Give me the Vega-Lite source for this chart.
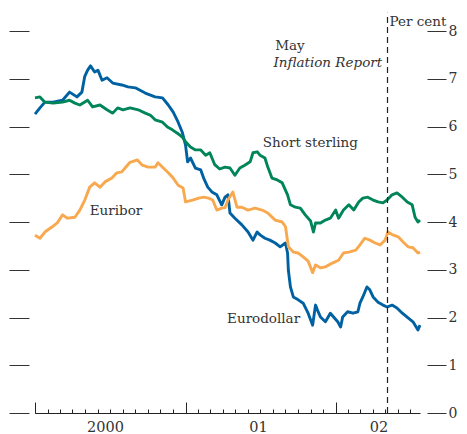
{
  "$schema": "https://vega.github.io/schema/vega-lite/v6.json",
  "width": 385,
  "height": 382,
  "autosize": "none",
  "padding": {"left": 35, "top": 31, "right": 47, "bottom": 21},
  "background": "white",
  "config": {
    "view": {"stroke": null},
    "font": "DejaVu Serif",
    "axis": {"labelFont": "DejaVu Serif", "titleFont": "DejaVu Serif", "grid": false}
  },
  "resolve": {"axis": {"x": "independent", "y": "independent"}},
  "layer": [
    {
      "data": {
        "values": [
          {"s":"Eurodollar","d":"2000-01-01","v":6.26},{"s":"Eurodollar","d":"2000-01-13","v":6.39},{"s":"Eurodollar","d":"2000-01-25","v":6.51},{"s":"Eurodollar","d":"2000-02-14","v":6.51},{"s":"Eurodollar","d":"2000-03-08","v":6.55},{"s":"Eurodollar","d":"2000-03-25","v":6.72},{"s":"Eurodollar","d":"2000-04-12","v":6.62},{"s":"Eurodollar","d":"2000-04-24","v":6.72},{"s":"Eurodollar","d":"2000-05-01","v":7.05},{"s":"Eurodollar","d":"2000-05-08","v":7.18},{"s":"Eurodollar","d":"2000-05-15","v":7.27},{"s":"Eurodollar","d":"2000-05-25","v":7.14},{"s":"Eurodollar","d":"2000-06-02","v":7.18},{"s":"Eurodollar","d":"2000-06-12","v":6.97},{"s":"Eurodollar","d":"2000-06-24","v":7.02},{"s":"Eurodollar","d":"2000-07-08","v":6.91},{"s":"Eurodollar","d":"2000-07-30","v":6.87},{"s":"Eurodollar","d":"2000-08-14","v":6.83},{"s":"Eurodollar","d":"2000-09-01","v":6.81},{"s":"Eurodollar","d":"2000-09-25","v":6.70},{"s":"Eurodollar","d":"2000-10-19","v":6.62},{"s":"Eurodollar","d":"2000-11-06","v":6.60},{"s":"Eurodollar","d":"2000-11-20","v":6.45},{"s":"Eurodollar","d":"2000-12-02","v":6.30},{"s":"Eurodollar","d":"2000-12-14","v":6.09},{"s":"Eurodollar","d":"2000-12-24","v":5.88},{"s":"Eurodollar","d":"2001-01-01","v":5.61},{"s":"Eurodollar","d":"2001-01-06","v":5.26},{"s":"Eurodollar","d":"2001-01-13","v":5.34},{"s":"Eurodollar","d":"2001-01-25","v":5.13},{"s":"Eurodollar","d":"2001-02-07","v":5.09},{"s":"Eurodollar","d":"2001-02-14","v":4.92},{"s":"Eurodollar","d":"2001-02-24","v":4.73},{"s":"Eurodollar","d":"2001-03-06","v":4.63},{"s":"Eurodollar","d":"2001-03-18","v":4.57},{"s":"Eurodollar","d":"2001-03-30","v":4.36},{"s":"Eurodollar","d":"2001-04-07","v":4.52},{"s":"Eurodollar","d":"2001-04-14","v":4.57},{"s":"Eurodollar","d":"2001-04-19","v":4.19},{"s":"Eurodollar","d":"2001-05-01","v":4.08},{"s":"Eurodollar","d":"2001-05-18","v":3.94},{"s":"Eurodollar","d":"2001-06-02","v":3.79},{"s":"Eurodollar","d":"2001-06-14","v":3.62},{"s":"Eurodollar","d":"2001-06-24","v":3.79},{"s":"Eurodollar","d":"2001-07-01","v":3.73},{"s":"Eurodollar","d":"2001-07-13","v":3.66},{"s":"Eurodollar","d":"2001-07-25","v":3.62},{"s":"Eurodollar","d":"2001-08-07","v":3.56},{"s":"Eurodollar","d":"2001-08-19","v":3.48},{"s":"Eurodollar","d":"2001-09-01","v":3.56},{"s":"Eurodollar","d":"2001-09-06","v":3.35},{"s":"Eurodollar","d":"2001-09-08","v":2.99},{"s":"Eurodollar","d":"2001-09-13","v":2.64},{"s":"Eurodollar","d":"2001-09-20","v":2.43},{"s":"Eurodollar","d":"2001-10-02","v":2.37},{"s":"Eurodollar","d":"2001-10-14","v":2.30},{"s":"Eurodollar","d":"2001-10-26","v":2.09},{"s":"Eurodollar","d":"2001-11-06","v":1.84},{"s":"Eurodollar","d":"2001-11-13","v":2.26},{"s":"Eurodollar","d":"2001-11-18","v":2.15},{"s":"Eurodollar","d":"2001-11-25","v":2.01},{"s":"Eurodollar","d":"2001-12-07","v":1.91},{"s":"Eurodollar","d":"2001-12-19","v":2.09},{"s":"Eurodollar","d":"2002-01-06","v":1.91},{"s":"Eurodollar","d":"2002-01-13","v":1.80},{"s":"Eurodollar","d":"2002-01-18","v":2.01},{"s":"Eurodollar","d":"2002-01-30","v":2.12},{"s":"Eurodollar","d":"2002-02-12","v":2.09},{"s":"Eurodollar","d":"2002-02-24","v":2.12},{"s":"Eurodollar","d":"2002-03-01","v":2.30},{"s":"Eurodollar","d":"2002-03-08","v":2.43},{"s":"Eurodollar","d":"2002-03-18","v":2.64},{"s":"Eurodollar","d":"2002-03-25","v":2.58},{"s":"Eurodollar","d":"2002-04-02","v":2.43},{"s":"Eurodollar","d":"2002-04-14","v":2.32},{"s":"Eurodollar","d":"2002-04-26","v":2.26},{"s":"Eurodollar","d":"2002-05-06","v":2.22},{"s":"Eurodollar","d":"2002-05-18","v":2.26},{"s":"Eurodollar","d":"2002-05-30","v":2.20},{"s":"Eurodollar","d":"2002-06-12","v":2.09},{"s":"Eurodollar","d":"2002-06-26","v":1.99},{"s":"Eurodollar","d":"2002-07-08","v":1.91},{"s":"Eurodollar","d":"2002-07-20","v":1.74},{"s":"Eurodollar","d":"2002-07-25","v":1.84},
          {"s":"Short sterling","d":"2000-01-01","v":6.60},{"s":"Short sterling","d":"2000-01-13","v":6.62},{"s":"Short sterling","d":"2000-01-25","v":6.51},{"s":"Short sterling","d":"2000-02-14","v":6.49},{"s":"Short sterling","d":"2000-03-08","v":6.51},{"s":"Short sterling","d":"2000-03-25","v":6.55},{"s":"Short sterling","d":"2000-04-07","v":6.49},{"s":"Short sterling","d":"2000-04-19","v":6.45},{"s":"Short sterling","d":"2000-05-08","v":6.55},{"s":"Short sterling","d":"2000-05-20","v":6.41},{"s":"Short sterling","d":"2000-06-07","v":6.45},{"s":"Short sterling","d":"2000-06-24","v":6.35},{"s":"Short sterling","d":"2000-07-08","v":6.28},{"s":"Short sterling","d":"2000-07-20","v":6.39},{"s":"Short sterling","d":"2000-08-02","v":6.35},{"s":"Short sterling","d":"2000-08-19","v":6.39},{"s":"Short sterling","d":"2000-09-08","v":6.35},{"s":"Short sterling","d":"2000-09-25","v":6.28},{"s":"Short sterling","d":"2000-10-07","v":6.24},{"s":"Short sterling","d":"2000-10-19","v":6.14},{"s":"Short sterling","d":"2000-11-06","v":6.09},{"s":"Short sterling","d":"2000-11-18","v":5.99},{"s":"Short sterling","d":"2000-11-30","v":5.93},{"s":"Short sterling","d":"2000-12-12","v":5.86},{"s":"Short sterling","d":"2000-12-24","v":5.78},{"s":"Short sterling","d":"2001-01-01","v":5.68},{"s":"Short sterling","d":"2001-01-13","v":5.57},{"s":"Short sterling","d":"2001-01-25","v":5.51},{"s":"Short sterling","d":"2001-02-07","v":5.51},{"s":"Short sterling","d":"2001-02-19","v":5.40},{"s":"Short sterling","d":"2001-03-01","v":5.45},{"s":"Short sterling","d":"2001-03-13","v":5.20},{"s":"Short sterling","d":"2001-03-25","v":5.11},{"s":"Short sterling","d":"2001-04-07","v":5.15},{"s":"Short sterling","d":"2001-04-19","v":5.13},{"s":"Short sterling","d":"2001-05-01","v":4.98},{"s":"Short sterling","d":"2001-05-13","v":5.13},{"s":"Short sterling","d":"2001-05-25","v":5.19},{"s":"Short sterling","d":"2001-06-07","v":5.26},{"s":"Short sterling","d":"2001-06-14","v":5.45},{"s":"Short sterling","d":"2001-06-24","v":5.47},{"s":"Short sterling","d":"2001-07-01","v":5.40},{"s":"Short sterling","d":"2001-07-13","v":5.34},{"s":"Short sterling","d":"2001-07-20","v":5.15},{"s":"Short sterling","d":"2001-07-30","v":4.92},{"s":"Short sterling","d":"2001-08-12","v":4.88},{"s":"Short sterling","d":"2001-08-24","v":4.82},{"s":"Short sterling","d":"2001-09-06","v":4.57},{"s":"Short sterling","d":"2001-09-13","v":4.36},{"s":"Short sterling","d":"2001-09-25","v":4.31},{"s":"Short sterling","d":"2001-10-07","v":4.29},{"s":"Short sterling","d":"2001-10-19","v":4.15},{"s":"Short sterling","d":"2001-11-01","v":4.02},{"s":"Short sterling","d":"2001-11-08","v":3.79},{"s":"Short sterling","d":"2001-11-13","v":3.98},{"s":"Short sterling","d":"2001-11-25","v":3.98},{"s":"Short sterling","d":"2001-12-07","v":4.04},{"s":"Short sterling","d":"2001-12-19","v":4.08},{"s":"Short sterling","d":"2002-01-01","v":4.25},{"s":"Short sterling","d":"2002-01-08","v":4.08},{"s":"Short sterling","d":"2002-01-20","v":4.25},{"s":"Short sterling","d":"2002-02-02","v":4.36},{"s":"Short sterling","d":"2002-02-14","v":4.25},{"s":"Short sterling","d":"2002-02-26","v":4.42},{"s":"Short sterling","d":"2002-03-08","v":4.50},{"s":"Short sterling","d":"2002-03-20","v":4.52},{"s":"Short sterling","d":"2002-04-02","v":4.46},{"s":"Short sterling","d":"2002-04-14","v":4.42},{"s":"Short sterling","d":"2002-04-26","v":4.40},{"s":"Short sterling","d":"2002-05-06","v":4.46},{"s":"Short sterling","d":"2002-05-18","v":4.57},{"s":"Short sterling","d":"2002-05-30","v":4.61},{"s":"Short sterling","d":"2002-06-12","v":4.52},{"s":"Short sterling","d":"2002-06-24","v":4.42},{"s":"Short sterling","d":"2002-07-06","v":4.36},{"s":"Short sterling","d":"2002-07-13","v":4.10},{"s":"Short sterling","d":"2002-07-20","v":4.00},{"s":"Short sterling","d":"2002-07-25","v":4.04},
          {"s":"Euribor","d":"2000-01-01","v":3.72},{"s":"Euribor","d":"2000-01-13","v":3.66},{"s":"Euribor","d":"2000-01-25","v":3.79},{"s":"Euribor","d":"2000-02-12","v":3.90},{"s":"Euribor","d":"2000-02-24","v":3.98},{"s":"Euribor","d":"2000-03-08","v":4.15},{"s":"Euribor","d":"2000-03-20","v":4.08},{"s":"Euribor","d":"2000-04-07","v":4.10},{"s":"Euribor","d":"2000-04-19","v":4.25},{"s":"Euribor","d":"2000-05-01","v":4.46},{"s":"Euribor","d":"2000-05-13","v":4.73},{"s":"Euribor","d":"2000-05-25","v":4.82},{"s":"Euribor","d":"2000-06-07","v":4.73},{"s":"Euribor","d":"2000-06-19","v":4.84},{"s":"Euribor","d":"2000-07-06","v":4.92},{"s":"Euribor","d":"2000-07-18","v":5.03},{"s":"Euribor","d":"2000-07-30","v":5.05},{"s":"Euribor","d":"2000-08-07","v":5.13},{"s":"Euribor","d":"2000-08-19","v":5.25},{"s":"Euribor","d":"2000-09-06","v":5.30},{"s":"Euribor","d":"2000-09-18","v":5.19},{"s":"Euribor","d":"2000-10-02","v":5.15},{"s":"Euribor","d":"2000-10-19","v":5.15},{"s":"Euribor","d":"2000-10-26","v":5.24},{"s":"Euribor","d":"2000-11-08","v":5.13},{"s":"Euribor","d":"2000-11-20","v":5.03},{"s":"Euribor","d":"2000-12-02","v":4.92},{"s":"Euribor","d":"2000-12-14","v":4.77},{"s":"Euribor","d":"2000-12-26","v":4.71},{"s":"Euribor","d":"2001-01-01","v":4.42},{"s":"Euribor","d":"2001-01-18","v":4.46},{"s":"Euribor","d":"2001-02-02","v":4.50},{"s":"Euribor","d":"2001-02-14","v":4.52},{"s":"Euribor","d":"2001-02-26","v":4.50},{"s":"Euribor","d":"2001-03-08","v":4.46},{"s":"Euribor","d":"2001-03-18","v":4.25},{"s":"Euribor","d":"2001-03-30","v":4.29},{"s":"Euribor","d":"2001-04-07","v":4.30},{"s":"Euribor","d":"2001-04-14","v":4.46},{"s":"Euribor","d":"2001-04-26","v":4.63},{"s":"Euribor","d":"2001-05-06","v":4.31},{"s":"Euribor","d":"2001-05-18","v":4.31},{"s":"Euribor","d":"2001-06-02","v":4.25},{"s":"Euribor","d":"2001-06-19","v":4.29},{"s":"Euribor","d":"2001-07-06","v":4.25},{"s":"Euribor","d":"2001-07-20","v":4.19},{"s":"Euribor","d":"2001-08-07","v":4.04},{"s":"Euribor","d":"2001-08-24","v":4.00},{"s":"Euribor","d":"2001-09-01","v":3.90},{"s":"Euribor","d":"2001-09-08","v":3.48},{"s":"Euribor","d":"2001-09-20","v":3.37},{"s":"Euribor","d":"2001-10-02","v":3.35},{"s":"Euribor","d":"2001-10-14","v":3.27},{"s":"Euribor","d":"2001-10-26","v":3.18},{"s":"Euribor","d":"2001-11-06","v":2.94},{"s":"Euribor","d":"2001-11-13","v":3.10},{"s":"Euribor","d":"2001-11-25","v":3.04},{"s":"Euribor","d":"2001-12-07","v":3.06},{"s":"Euribor","d":"2001-12-24","v":3.14},{"s":"Euribor","d":"2002-01-08","v":3.20},{"s":"Euribor","d":"2002-01-20","v":3.35},{"s":"Euribor","d":"2002-02-02","v":3.37},{"s":"Euribor","d":"2002-02-19","v":3.41},{"s":"Euribor","d":"2002-03-01","v":3.52},{"s":"Euribor","d":"2002-03-13","v":3.66},{"s":"Euribor","d":"2002-03-25","v":3.62},{"s":"Euribor","d":"2002-04-07","v":3.56},{"s":"Euribor","d":"2002-04-19","v":3.52},{"s":"Euribor","d":"2002-05-01","v":3.62},{"s":"Euribor","d":"2002-05-08","v":3.79},{"s":"Euribor","d":"2002-05-20","v":3.73},{"s":"Euribor","d":"2002-06-02","v":3.69},{"s":"Euribor","d":"2002-06-14","v":3.58},{"s":"Euribor","d":"2002-06-26","v":3.48},{"s":"Euribor","d":"2002-07-08","v":3.46},{"s":"Euribor","d":"2002-07-20","v":3.35},{"s":"Euribor","d":"2002-07-25","v":3.37}
        ]
      },
      "mark": {"type": "line", "strokeWidth": 2.9, "strokeJoin": "round"},
      "encoding": {
        "x": {
          "field": "d", "type": "temporal",
          "scale": {"type": "utc", "domain": [{"year": 2000, "month": 1, "date": 1, "utc": true}, {"year": 2002, "month": 7, "date": 25, "utc": true}]},
          "axis": {"orient": "bottom", "tickCount": {"interval": "month", "step": 1}, "tickSize": -4, "labels": false, "domain": true, "domainColor": "#222", "domainWidth": 1, "tickColor": "#222", "tickWidth": 1, "title": null, "grid": false}
        },
        "y": {
          "field": "v", "type": "quantitative",
          "scale": {"domain": [0, 8]},
          "axis": {"orient": "right", "offset": 7, "tickSize": 19, "values": [0, 1, 2, 3, 4, 5, 6, 7, 8], "domain": false, "labelPadding": 2, "labelFontSize": 14, "labelColor": "#333", "tickColor": "#333", "tickWidth": 1, "title": "Per cent", "titleAngle": 0, "titleAlign": "left", "titleBaseline": "alphabetic", "titleX": -38, "titleY": -6, "titleFontSize": 13.5, "titleFontWeight": "normal", "titleColor": "#333"}
        },
        "color": {
          "field": "s", "type": "nominal",
          "scale": {"domain": ["Eurodollar", "Short sterling", "Euribor"], "range": ["#0061A2", "#00845A", "#F8A94F"]},
          "legend": null
        }
      }
    },
    {
      "data": {"values": [{"d": "2002-05-07", "lo": 0, "hi": 8.38}]},
      "mark": {"type": "rule", "strokeDash": [6, 4], "color": "#222", "strokeWidth": 1.2},
      "encoding": {
        "x": {
          "field": "d", "type": "temporal", "scale": {"type": "utc"},
          "axis": {"orient": "bottom", "values": [{"year": 2000, "month": 1, "date": 1, "utc": true}, {"year": 2001, "month": 1, "date": 1, "utc": true}, {"year": 2002, "month": 1, "date": 1, "utc": true}], "tickSize": -11, "labels": false, "domain": false, "tickColor": "#222", "tickWidth": 1, "title": null, "grid": false}
        },
        "y": {
          "field": "lo", "type": "quantitative",
          "axis": {"orient": "left", "offset": 6, "tickSize": 20, "values": [0, 1, 2, 3, 4, 5, 6, 7, 8], "labels": false, "domain": false, "tickColor": "#333", "tickWidth": 1, "title": null}
        },
        "y2": {"field": "hi"}
      }
    },
    {
      "data": {
        "values": [
          {"d": "2001-07-08", "v": 5.57, "t": "Short sterling"},
          {"d": "2000-05-13", "v": 4.15, "t": "Euribor"},
          {"d": "2001-04-12", "v": 1.88, "t": "Eurodollar"},
          {"d": "2001-08-07", "v": 7.6, "t": "May"}
        ]
      },
      "mark": {"type": "text", "align": "left", "baseline": "alphabetic", "fontSize": 13.5, "color": "#333", "font": "DejaVu Serif"},
      "encoding": {
        "x": {
          "field": "d", "type": "temporal", "scale": {"type": "utc"},
          "axis": {"orient": "bottom", "values": [{"year": 2000, "month": 6, "date": 19, "utc": true}, {"year": 2001, "month": 6, "date": 26, "utc": true}, {"year": 2002, "month": 4, "date": 15, "utc": true}], "ticks": false, "domain": false, "labelPadding": 7, "labelFontSize": 14.5, "labelColor": "#333", "labelExpr": "utcFormat(datum.value, '%Y') == '2000' ? '2000' : utcFormat(datum.value, '%y')", "title": null, "grid": false}
        },
        "y": {"field": "v", "type": "quantitative", "axis": null},
        "text": {"field": "t"}
      }
    },
    {
      "data": {"values": [{"d": "2002-04-24", "v": 7.25, "t": "Inflation Report"}]},
      "mark": {"type": "text", "align": "right", "baseline": "alphabetic", "fontSize": 13.5, "fontStyle": "italic", "color": "#333", "font": "DejaVu Serif"},
      "encoding": {
        "x": {"field": "d", "type": "temporal", "scale": {"type": "utc"}, "axis": null},
        "y": {"field": "v", "type": "quantitative", "axis": null},
        "text": {"field": "t"}
      }
    }
  ]
}
